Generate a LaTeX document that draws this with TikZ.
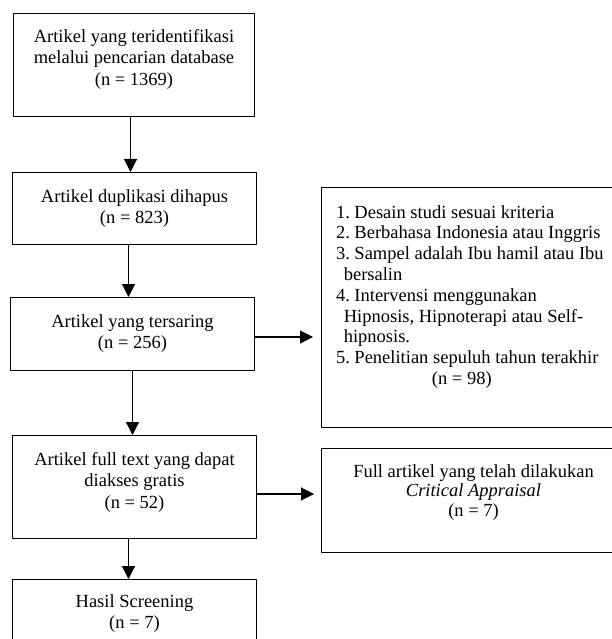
\documentclass[tikz,border=0pt]{standalone}
\usepackage{fontspec}
\setmainfont{Liberation Serif}
\usetikzlibrary{arrows.meta}
\usetikzlibrary{positioning}

\begin{document}
\begin{tikzpicture}[line cap=round,line join=round, x=1pt,y=-1pt,
	kotak/.style={draw=black, line width=1pt, inner sep=0pt, anchor=north west},
	teks/.style={align=center, inner sep=0pt, anchor=north, font=\fontsize{18.5}{21.7}\selectfont},
	panah/.style={-{Triangle[length=13pt,width=13pt]}, line width=1.1pt, color=black}]
	\useasboundingbox (0,0) rectangle (612,639);
	\clip (0,0) rectangle (612,639);
	\node[kotak, minimum width=241pt, minimum height=103pt] (identifikasi) at (13,13) {};
	\node[kotak, minimum width=244pt, minimum height=72pt] (duplikasi) at (12,172) {};
	\node[kotak, minimum width=244pt, minimum height=73pt] (tersaring) at (10,297) {};
	\node[kotak, minimum width=244pt, minimum height=103pt] (fulltext) at (12,435) {};
	\node[kotak, minimum width=244pt, minimum height=90pt] (hasil) at (12,579) {};
	\node[kotak, minimum width=304pt, minimum height=240pt] (kriteria) at (321,187) {};
	\node[kotak, minimum width=304pt, minimum height=104pt] (appraisal) at (321,448) {};
	\node[teks, below=16pt of identifikasi.north] (t1) {Artikel yang teridentifikasi\\melalui pencarian database\\(n = 1369)};
	\node[teks, below=17pt of duplikasi.north] (t2) {Artikel duplikasi dihapus\\(n = 823)};
	\node[teks, below=17pt of tersaring.north] (t3) {Artikel yang tersaring\\(n = 256)};
	\node[teks, below=17pt of fulltext.north] (t4) {Artikel full text yang dapat\\diakses gratis\\(n = 52)};
	\node[teks, below=15pt of hasil.north] (t5) {Hasil Screening\\(n = 7)};
	\node[teks, align=left, anchor=north west, font=\fontsize{18.5}{20.8}\selectfont] (t6) at ([xshift=15pt,yshift=-18pt]kriteria.north west) {1.\hspace{4.4pt}Desain studi sesuai kriteria\\
		2.\hspace{4.4pt}Berbahasa Indonesia atau Inggris\\
		3.\hspace{4.4pt}Sampel adalah Ibu hamil atau Ibu\\
		\hspace*{7.6pt}bersalin\\
		4.\hspace{4.4pt}Intervensi menggunakan\\
		\hspace*{7.6pt}Hipnosis, Hipnoterapi atau Self-\\
		\hspace*{7.6pt}hipnosis.\\
		5.\hspace{4.4pt}Penelitian sepuluh tahun terakhir\\
		\hspace*{95.7pt}(n = 98)};
	\node[teks, below=16pt of appraisal.north, font=\fontsize{18.5}{19.5}\selectfont] (t7) {Full artikel yang telah dilakukan\\\textit{Critical Appraisal}\\(n = 7)};
	\draw[panah] ([xshift=-3.5pt]identifikasi.south) -- ([xshift=-3.5pt]identifikasi.south |- duplikasi.north);
	\draw[panah] ([xshift=-6pt]duplikasi.south) -- ([xshift=-6pt]duplikasi.south |- tersaring.north);
	\draw[panah] (tersaring.south) -- (tersaring.south |- fulltext.north);
	\draw[panah] ([xshift=-6pt]fulltext.south) -- ([xshift=-6pt]fulltext.south |- hasil.north);
	\draw[panah] ([yshift=-3pt]tersaring.east) -- ++(58pt,0);
	\draw[panah] ([yshift=-7pt]fulltext.east) -- ++(57pt,0);
\end{tikzpicture}
\end{document}
